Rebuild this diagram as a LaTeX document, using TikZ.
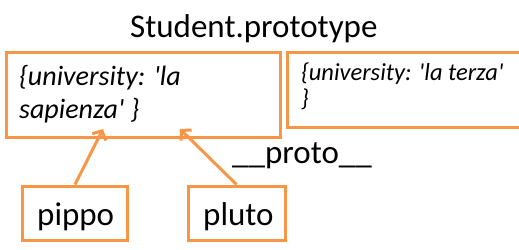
\documentclass[tikz,border=0pt]{standalone}
\usepackage{fontspec}
\setmainfont{Carlito}[Ligatures=TeXOff]
\usetikzlibrary{arrows.meta}
\definecolor{accent}{HTML}{F79646}
\begin{document}
\begin{tikzpicture}[x=1pt,y=-1pt,
  objbox/.style={draw=accent,line width=3pt,inner sep=0pt},
  link/.style={draw=accent,line width=3pt,-{Straight Barb[length=7pt,width=15pt,line width=3pt]}},
  bigtxt/.style={font=\fontsize{33}{38}\selectfont,inner sep=0pt,anchor=base west},
  objtxt/.style={inner sep=0pt,anchor=base west,font=\itshape\fontsize{28}{33}\selectfont},
  smalltxt/.style={inner sep=0pt,anchor=base west,font=\itshape\fontsize{24.5}{26}\selectfont}]
\useasboundingbox (0,0) rectangle (519,249);

% prototype objects
\node[objbox,minimum width=274pt,minimum height=85pt] (proto1) at (143,94.5) {};
\node[objbox,minimum width=260pt,minimum height=75pt] (proto2) at (417,89.5) {};

\node[bigtxt] (title) at (130,37) {Student.prototype};
\node[objtxt] (p1a) at (19,85) {\{university: 'la};
\node[objtxt] (p1b) at (19,118) {sapienza' \}};
\node[smalltxt] (p2a) at (301,80) {\{university: 'la terza'};
\node[smalltxt] (p2b) at (301,106) {\}};

% instances
\node[objbox,minimum width=105pt,minimum height=54pt] (pippo) at (75,213) {};
\node[objbox,minimum width=97pt,minimum height=54pt] (pluto) at (236.5,213) {};
\node[bigtxt] (pippotxt) at (37,225) {pippo};
\node[bigtxt] (plutotxt) at (203,225) {pluto};

\node[bigtxt] (protolbl) at (232,163) {\_\_proto\_\_};

% __proto__ links
\coordinate (tipA) at (103,129);
\coordinate (tipB) at (180,129);
\draw[link] (pippo.north) -- (tipA);
\draw[link] (pluto.north) -- (tipB);
\end{tikzpicture}
\end{document}
